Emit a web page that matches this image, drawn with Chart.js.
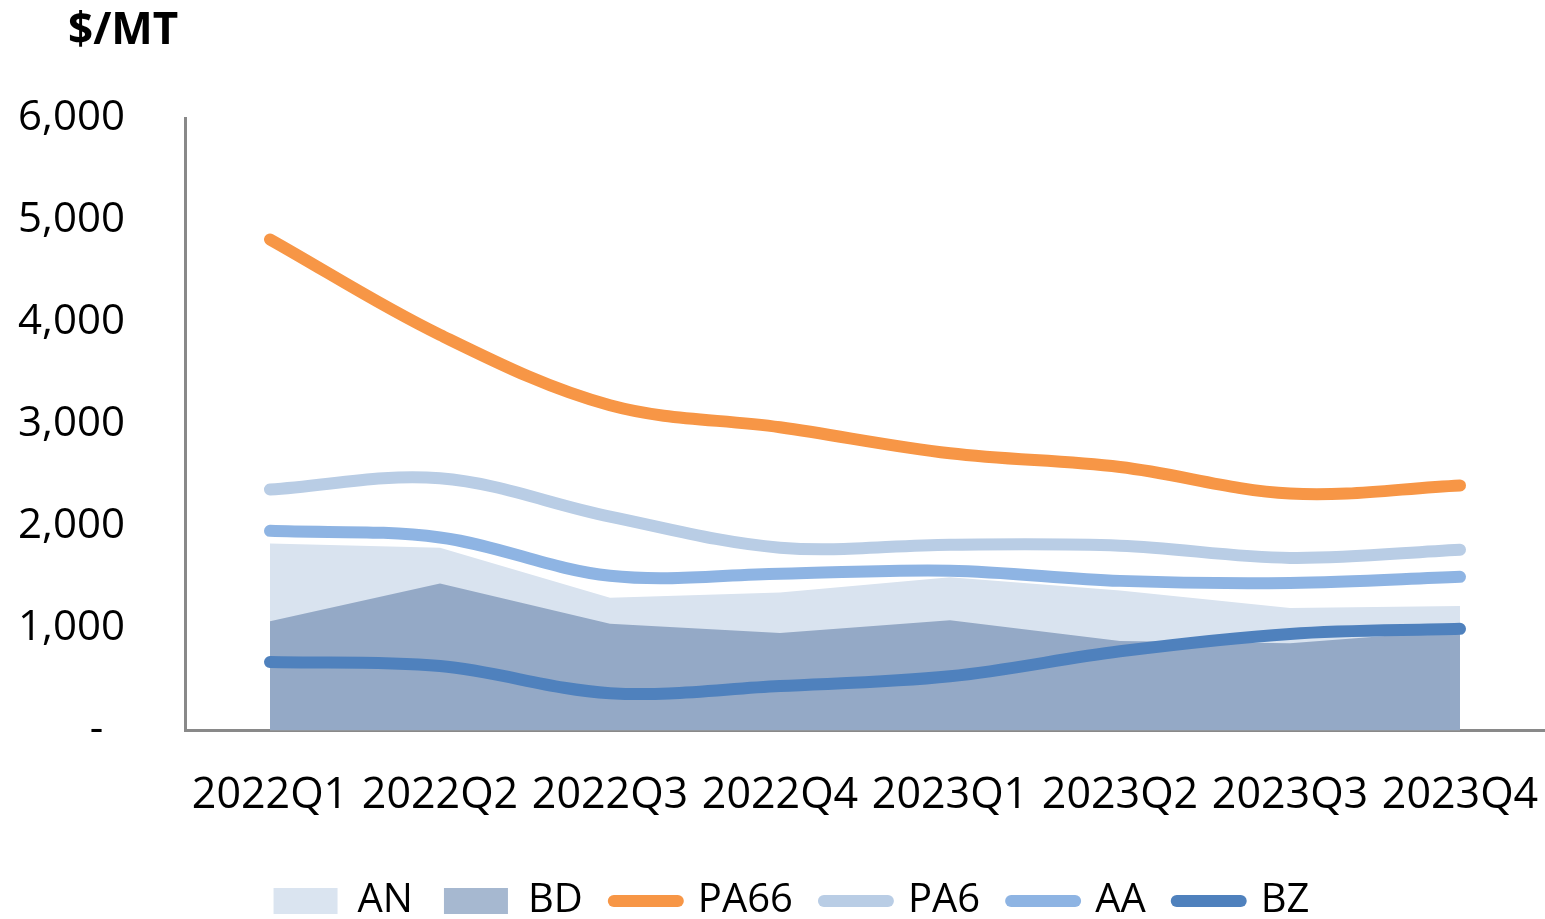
<!DOCTYPE html>
<html>
<head>
<meta charset="utf-8">
<script src="https://cdn.jsdelivr.net/npm/chart.js@4/dist/chart.umd.min.js"></script>
<style>
  html, body { margin: 0; padding: 0; background: #ffffff; }
  canvas { display: block; }
</style>
</head>
<body>
<canvas id="chart" width="1545" height="919"></canvas>
<script>
// Quarterly prices, $/MT
const quarters = ['2022Q1', '2022Q2', '2022Q3', '2022Q4', '2023Q1', '2023Q2', '2023Q3', '2023Q4'];
const anPrices   = [1830, 1790, 1300, 1350, 1500, 1370, 1200, 1220];
const bdPrices   = [1070, 1440, 1045, 955, 1080, 875, 855, 980];
const pa66Prices = [4810, 3875, 3185, 2970, 2715, 2580, 2320, 2400];
const pa6Prices  = [2360, 2470, 2095, 1790, 1820, 1810, 1690, 1770];
const aaPrices   = [1955, 1890, 1515, 1535, 1565, 1465, 1445, 1505];
const bzPrices   = [670, 630, 365, 435, 530, 775, 945, 995];
const yTickValues = [0, 1000, 2000, 3000, 4000, 5000, 6000];

const FONT = '"Open Sans", "Noto Sans", sans-serif';
const AXIS_GREY = '#898989';

function areaSeries(label, data, fill, legendFill, order) {
  return {
    type: 'line', label, data,
    backgroundColor: fill, legendFill,
    borderWidth: 0, borderColor: fill,
    pointRadius: 0, tension: 0,
    fill: 'origin', order
  };
}

function lineSeries(label, data, color) {
  return {
    type: 'line', label, data,
    borderColor: color, backgroundColor: color,
    borderWidth: 12, borderCapStyle: 'round', borderJoinStyle: 'round',
    pointRadius: 0, tension: 0.35,
    fill: false, order: 0
  };
}

// Unit caption above the value axis; legend nudged to sit centred under the plot
const unitCaption = {
  id: 'unitCaption',
  afterLayout(chart) {
    if (chart.legend) chart.legend.left += 38;
  },
  afterDraw(chart) {
    const ctx = chart.ctx;
    ctx.save();
    ctx.font = 'bold 44px ' + FONT;
    ctx.fillStyle = '#000000';
    ctx.textBaseline = 'middle';
    ctx.textAlign = 'left';
    ctx.fillText('$/MT', 68, 31);
    ctx.restore();
  }
};

new Chart(document.getElementById('chart'), {
  type: 'line',
  data: {
    labels: quarters,
    datasets: [
      areaSeries('AN', anPrices, '#D9E3EF', '#DAE4F0', 2),
      areaSeries('BD', bdPrices, '#94A9C6', '#A6B8D0', 1),
      lineSeries('PA66', pa66Prices, '#F79646'),
      lineSeries('PA6', pa6Prices, '#B9CDE5'),
      lineSeries('AA', aaPrices, '#8EB4E3'),
      lineSeries('BZ', bzPrices, '#4F81BD')
    ]
  },
  options: {
    responsive: false,
    animation: false,
    events: [],
    layout: { padding: { left: 0, right: 0, top: 118, bottom: -12 } },
    scales: {
      x: {
        offset: true,
        grid: { display: false, drawTicks: false },
        border: { display: true, color: AXIS_GREY, width: 3 },
        ticks: {
          autoSkip: false, maxRotation: 0, minRotation: 0,
          padding: 40, color: '#000000',
          font: { family: FONT, size: 43 }
        },
        afterFit(scale) {
          scale.paddingLeft = 0;
          scale.paddingRight = 0;
          scale.height -= 12;
        }
      },
      y: {
        min: 0, max: 6000,
        afterBuildTicks(scale) { scale.ticks = yTickValues.map(v => ({ value: v })); },
        grid: { display: false, drawTicks: false },
        border: { display: true, color: AXIS_GREY, width: 3 },
        ticks: {
          padding: 60, color: '#000000',
          font: { family: FONT, size: 42 },
          callback: v => (v === 0 ? '-  ' : v.toLocaleString('en-US'))
        },
        afterFit(scale) { scale.width = 185; }
      }
    },
    plugins: {
      tooltip: { enabled: false },
      legend: {
        position: 'bottom',
        labels: {
          usePointStyle: true,
          pointStyleWidth: 64,
          boxHeight: 26,
          padding: 31,
          color: '#000000',
          font: { family: FONT, size: 40 },
          sort: (a, b) => a.datasetIndex - b.datasetIndex,
          generateLabels(chart) {
            return chart.data.datasets.map((ds, i) => {
              const isArea = ds.fill === 'origin';
              return {
                text: ds.label,
                datasetIndex: i,
                fillStyle: isArea ? ds.legendFill : ds.borderColor,
                strokeStyle: ds.borderColor,
                lineWidth: isArea ? 0 : 12,
                lineCap: 'round',
                pointStyle: isArea ? 'rect' : 'line',
                fontColor: '#000000',
                hidden: false
              };
            });
          }
        }
      }
    }
  },
  plugins: [unitCaption]
});
</script>
</body>
</html>
